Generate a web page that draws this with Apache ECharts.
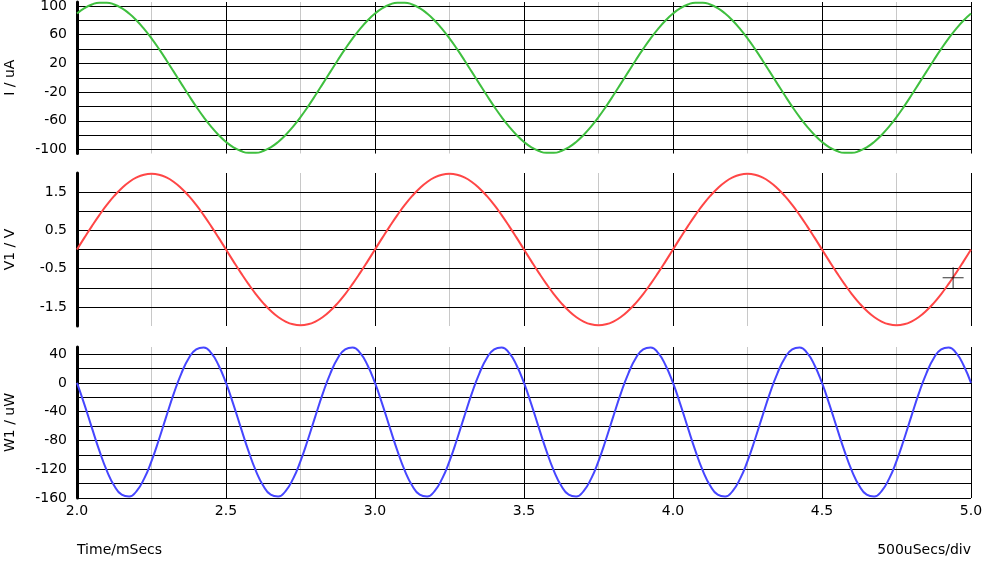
<!DOCTYPE html>
<html>
<head>
<meta charset="utf-8">
<script src="https://cdn.jsdelivr.net/npm/echarts@6/dist/echarts.min.js"></script>
<style>
html,body{margin:0;padding:0;background:#fff;}
#chart{width:983px;height:561px;}
</style>
</head>
<body>
<div id="chart"></div>
<script>
// ---- data ----
const timeMs = [
2.000,2.025,2.050,2.075,2.100,2.125,2.150,2.175,2.200,2.225,
2.250,2.275,2.300,2.325,2.350,2.375,2.400,2.425,2.450,2.475,
2.500,2.525,2.550,2.575,2.600,2.625,2.650,2.675,2.700,2.725,
2.750,2.775,2.800,2.825,2.850,2.875,2.900,2.925,2.950,2.975,
3.000,3.025,3.050,3.075,3.100,3.125,3.150,3.175,3.200,3.225,
3.250,3.275,3.300,3.325,3.350,3.375,3.400,3.425,3.450,3.475,
3.500,3.525,3.550,3.575,3.600,3.625,3.650,3.675,3.700,3.725,
3.750,3.775,3.800,3.825,3.850,3.875,3.900,3.925,3.950,3.975,
4.000,4.025,4.050,4.075,4.100,4.125,4.150,4.175,4.200,4.225,
4.250,4.275,4.300,4.325,4.350,4.375,4.400,4.425,4.450,4.475,
4.500,4.525,4.550,4.575,4.600,4.625,4.650,4.675,4.700,4.725,
4.750,4.775,4.800,4.825,4.850,4.875,4.900,4.925,4.950,4.975,
5.000];

const currentUA = [
89.5,97.0,102.1,104.7,104.7,102.1,97.0,89.5,79.8,68.2,
54.9,40.2,24.5,8.2,-8.2,-24.5,-40.2,-54.9,-68.2,-79.8,
-89.5,-97.0,-102.1,-104.7,-104.7,-102.1,-97.0,-89.5,-79.8,-68.2,
-54.9,-40.2,-24.5,-8.2,8.2,24.5,40.2,54.9,68.2,79.8,
89.5,97.0,102.1,104.7,104.7,102.1,97.0,89.5,79.8,68.2,
54.9,40.2,24.5,8.2,-8.2,-24.5,-40.2,-54.9,-68.2,-79.8,
-89.5,-97.0,-102.1,-104.7,-104.7,-102.1,-97.0,-89.5,-79.8,-68.2,
-54.9,-40.2,-24.5,-8.2,8.2,24.5,40.2,54.9,68.2,79.8,
89.5,97.0,102.1,104.7,104.7,102.1,97.0,89.5,79.8,68.2,
54.9,40.2,24.5,8.2,-8.2,-24.5,-40.2,-54.9,-68.2,-79.8,
-89.5,-97.0,-102.1,-104.7,-104.7,-102.1,-97.0,-89.5,-79.8,-68.2,
-54.9,-40.2,-24.5,-8.2,8.2,24.5,40.2,54.9,68.2,79.8,
89.5];

const voltageV = [
0.000,0.310,0.612,0.899,1.164,1.400,1.602,1.764,1.883,1.956,
1.980,1.956,1.883,1.764,1.602,1.400,1.164,0.899,0.612,0.310,
0.000,-0.310,-0.612,-0.899,-1.164,-1.400,-1.602,-1.764,-1.883,-1.956,
-1.980,-1.956,-1.883,-1.764,-1.602,-1.400,-1.164,-0.899,-0.612,-0.310,
0.000,0.310,0.612,0.899,1.164,1.400,1.602,1.764,1.883,1.956,
1.980,1.956,1.883,1.764,1.602,1.400,1.164,0.899,0.612,0.310,
0.000,-0.310,-0.612,-0.899,-1.164,-1.400,-1.602,-1.764,-1.883,-1.956,
-1.980,-1.956,-1.883,-1.764,-1.602,-1.400,-1.164,-0.899,-0.612,-0.310,
0.000,0.310,0.612,0.899,1.164,1.400,1.602,1.764,1.883,1.956,
1.980,1.956,1.883,1.764,1.602,1.400,1.164,0.899,0.612,0.310,
0.000,-0.310,-0.612,-0.899,-1.164,-1.400,-1.602,-1.764,-1.883,-1.956,
-1.980,-1.956,-1.883,-1.764,-1.602,-1.400,-1.164,-0.899,-0.612,-0.310,
0.000];

const powerUW = [
0.0,-30.1,-62.5,-94.1,-121.9,-142.9,-155.4,-157.9,-150.3,-133.4,
-108.7,-78.6,-46.1,-14.5,13.1,34.3,46.8,49.4,41.7,24.7,
0.0,-30.1,-62.5,-94.1,-121.9,-142.9,-155.4,-157.9,-150.3,-133.4,
-108.7,-78.6,-46.1,-14.5,13.1,34.3,46.8,49.4,41.7,24.7,
0.0,-30.1,-62.5,-94.1,-121.9,-142.9,-155.4,-157.9,-150.3,-133.4,
-108.7,-78.6,-46.1,-14.5,13.1,34.3,46.8,49.4,41.7,24.7,
0.0,-30.1,-62.5,-94.1,-121.9,-142.9,-155.4,-157.9,-150.3,-133.4,
-108.7,-78.6,-46.1,-14.5,13.1,34.3,46.8,49.4,41.7,24.7,
0.0,-30.1,-62.5,-94.1,-121.9,-142.9,-155.4,-157.9,-150.3,-133.4,
-108.7,-78.6,-46.1,-14.5,13.1,34.3,46.8,49.4,41.7,24.7,
0.0,-30.1,-62.5,-94.1,-121.9,-142.9,-155.4,-157.9,-150.3,-133.4,
-108.7,-78.6,-46.1,-14.5,13.1,34.3,46.8,49.4,41.7,24.7,
0.0];

const cursorPoint = [4.94, -0.74];

const xTickLabels = ['2.0','2.5','3.0','3.5','4.0','4.5','5.0'];
const axisNames = ['I / uA', 'V1 / V', 'W1 / uW'];
const bottomLeftText = 'Time/mSecs';
const bottomRightText = '500uSecs/div';

// ---- layout ----
const FONT = 'DejaVu Sans';
const LEFT = 77, RIGHT = 12;
const panels = [
  {top: 2,   bottom: 153.5, min: -105.6, max: 105.6, fMin: -100, fMax: 100, step: 20,  lStart: -100, lStep: 40, values: currentUA, color: '#3fbf3f', name: axisNames[0]},
  {top: 173, bottom: 326,   min: -2,     max: 2,     fMin: -1.5, fMax: 1.5, step: 0.5, lStart: -1.5, lStep: 1,  values: voltageV,  color: '#ff4646', name: axisNames[1]},
  {top: 347, bottom: 498,   min: -160,   max: 50,    fMin: -160, fMax: 40,  step: 20,  lStart: -160, lStep: 40, values: powerUW,   color: '#4646ff', name: axisNames[2]}
];

const grid = [], xAxis = [], yAxis = [], series = [];
panels.forEach((p, i) => {
  const h = p.bottom - p.top;
  const scale = h / (p.max - p.min);
  const fTop = p.top + (p.max - p.fMax) * scale;
  const fH = (p.fMax - p.fMin) * scale;
  const last = i === panels.length - 1;

  const gD = grid.length;
  grid.push({left: LEFT, right: RIGHT, top: p.top, height: h, containLabel: false, outerBoundsMode: 'none'});
  const gF = grid.length;
  grid.push({left: LEFT, right: RIGHT, top: fTop, height: fH, containLabel: false, outerBoundsMode: 'none'});

  xAxis.push({gridIndex: gD, type: 'value', position: 'bottom', min: 2, max: 5, interval: 0.25, z: 0,
    axisLine: {show: false}, axisTick: {show: false}, axisLabel: {show: false},
    splitLine: {show: true, lineStyle: {color: '#c8c8c8', width: 1}}});
  const xBlack = xAxis.length;
  xAxis.push({gridIndex: gD, type: 'value', position: 'bottom', min: 2, max: 5, interval: 0.5, z: 1,
    axisLine: {show: false}, axisTick: {show: false},
    axisLabel: {show: last, margin: 6, color: '#000', fontFamily: FONT, fontSize: 14,
      formatter: v => { const s = v.toFixed(1); return xTickLabels.indexOf(s) >= 0 ? s : ''; }},
    splitLine: {show: true, lineStyle: {color: '#000', width: 1}}});
  xAxis.push({gridIndex: gF, type: 'value', position: 'bottom', min: 2, max: 5, show: false});

  const yData = yAxis.length;
  yAxis.push({gridIndex: gD, type: 'value', position: 'left', min: p.min, max: p.max, z: 3,
    name: p.name, nameLocation: 'middle', nameGap: 60, nameRotate: 90,
    nameTextStyle: {color: '#000', fontFamily: FONT, fontSize: 14},
    axisLine: {show: true, onZero: false, lineStyle: {color: '#000', width: 3}},
    axisTick: {show: false}, axisLabel: {show: false}, splitLine: {show: false}});
  yAxis.push({gridIndex: gF, type: 'value', position: 'left', min: p.fMin, max: p.fMax, interval: p.step, z: 1,
    axisLine: {show: false}, axisTick: {show: false},
    axisLabel: {show: true, margin: 10, color: '#000', fontFamily: FONT, fontSize: 14,
      formatter: v => {
        const k = (v - p.lStart) / p.lStep;
        return Math.abs(k - Math.round(k)) < 1e-6 ? String(Math.round(v * 10) / 10) : '';
      }},
    splitLine: {show: true, lineStyle: {color: '#000', width: 1}}});

  series.push({type: 'line', xAxisIndex: xBlack, yAxisIndex: yData, smooth: true,
    showSymbol: false, symbol: 'none', z: 5,
    lineStyle: {color: p.color, width: 2},
    data: timeMs.map((t, j) => [t, p.values[j]])});

  if (i === 1) {
    series.push({type: 'scatter', xAxisIndex: xBlack, yAxisIndex: yData, z: 6,
      symbol: 'path://M0,10L21,10L21,11L0,11ZM10,0L11,0L11,21L10,21Z',
      symbolSize: [21, 21], itemStyle: {color: '#000'},
      data: [cursorPoint]});
  }
});

const chart = echarts.init(document.getElementById('chart'), null, {renderer: 'canvas'});
chart.setOption({
  backgroundColor: '#fff',
  animation: false,
  grid, xAxis, yAxis, series,
  graphic: [
    {type: 'text', left: LEFT, top: 543, style: {text: bottomLeftText, fill: '#000', font: '14px "' + FONT + '"'}},
    {type: 'text', right: RIGHT, top: 543, style: {text: bottomRightText, fill: '#000', font: '14px "' + FONT + '"'}}
  ]
});
</script>
</body>
</html>
